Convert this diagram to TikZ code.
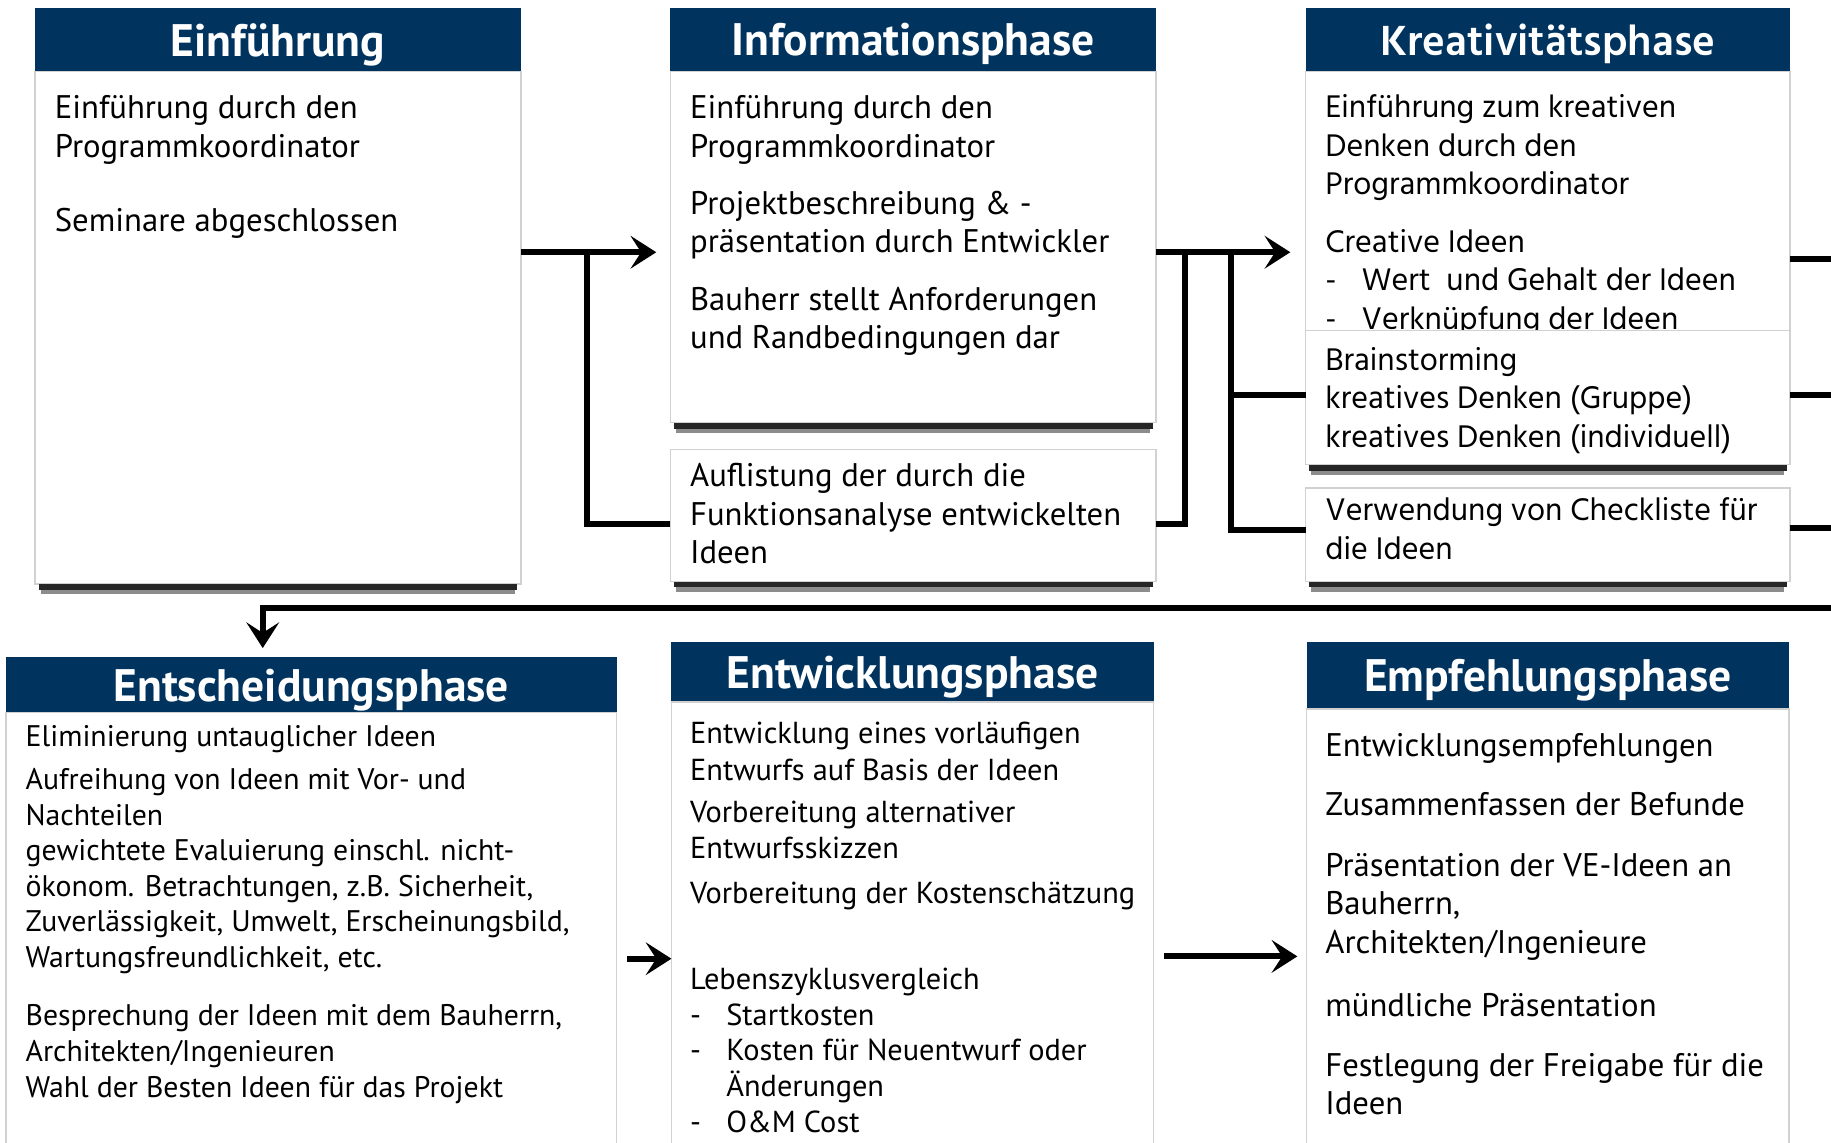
\documentclass[tikz,border=0pt]{standalone}
\usepackage{fontspec}
\setmainfont{PT Sans}
\newfontfamily\hindfont{Hind Madurai}
\usetikzlibrary{arrows.meta}

\definecolor{phaseblue}{HTML}{00335E}
\newcommand{\listdash}{\makebox[31pt][l]{-}}

\tikzset{
  phasebox/.style={draw=black!18, line width=1.2pt, fill=white, inner sep=0pt, outer sep=0pt, anchor=north west},
  phasehead/.style={fill=phaseblue, inner sep=0pt, outer sep=0pt, anchor=north west, text=white,
    text depth=0pt, font=\fontsize{39}{42}\selectfont\bfseries},
  phasetext/.style={anchor=north west, align=left, inner sep=0pt, outer sep=0pt,
    font=\fontsize{28}{33}\selectfont, execute at begin node={\rule{0pt}{0.92em}}},
  boxshadow/.style={fill=black!85},
}

\begin{document}
\begin{tikzpicture}[x=1pt,y=-1pt,line width=5pt,>={Stealth[length=22pt,width=28pt,inset=9pt]}]
  \useasboundingbox (0,0) rectangle (1568,978);

  % top row
  \node[phasehead,minimum width=416pt,minimum height=54pt] (einfH) at (30,7) {Einführung};
  \node[phasebox,minimum width=416pt,minimum height=439pt] (einf) at (30,61) {};
  \node[phasehead,minimum width=416pt,minimum height=54pt] (infoH) at (574,7) {Informationsphase};
  \node[phasebox,minimum width=416pt,minimum height=301pt] (info) at (574,61) {};
  \node[phasebox,minimum width=416pt,minimum height=113pt] (aufl) at (574,385) {};
  \node[phasehead,minimum width=415pt,minimum height=54pt,font=\hindfont\fontsize{37}{40}\selectfont\bfseries] (kreaH) at (1118,7) {Kreativitätsphase};
  \node[phasebox,minimum width=415pt,minimum height=222pt] (krea) at (1118,61) {};

  \node[phasetext] (einfT) at (47,81.7) {Einführung durch den\\Programmkoordinator\\[31pt]Seminare abgeschlossen};
  \node[phasetext] (infoT) at (591,81.7) {Einführung durch den\\Programmkoordinator\\[16pt]Projektbeschreibung \& -\\präsentation durch Entwickler\\[16pt]Bauherr stellt Anforderungen\\und Randbedingungen dar};
  \node[phasetext] (auflT) at (591,396.7) {Auflistung der durch die\\Funktionsanalyse entwickelten\\Ideen};
  \node[phasetext,font=\hindfont\fontsize{27.5}{33}\selectfont] (kreaT) at (1135,81.2) {Einführung zum kreativen\\Denken durch den\\Programmkoordinator\\[16pt]Creative Ideen\\\listdash Wert\ \ und Gehalt der Ideen\\\listdash Verknüpfung der Ideen};

  \node[phasebox,minimum width=415pt,minimum height=115pt] (brain) at (1118,283) {};
  \node[phasebox,minimum width=415pt,minimum height=80pt] (check) at (1118,418) {};
  \node[phasetext,font=\hindfont\fontsize{27.5}{33}\selectfont] (brainT) at (1135,297.2) {Brainstorming\\kreatives Denken (Gruppe)\\kreatives Denken (individuell)};
  \node[phasetext,font=\hindfont\fontsize{27.5}{33}\selectfont] (checkT) at (1135,426.2) {Verwendung von Checkliste für\\die Ideen};

  \foreach \b in {einf,info,aufl,brain,check}{
    \fill[boxshadow] ([xshift=3pt]\b.south west) rectangle ([xshift=-3pt,yshift=-5pt]\b.south east);
    \fill[boxshadow,fill=black!45] ([xshift=5pt,yshift=-5pt]\b.south west) rectangle ([xshift=-5pt,yshift=-9pt]\b.south east);
  }

  % bottom row
  \node[phasehead,minimum width=523pt,minimum height=47pt] (entsH) at (5,563) {Entscheidungsphase};
  \node[phasebox,minimum width=523pt,minimum height=380pt] (ents) at (5,610) {};
  \node[phasehead,minimum width=413pt,minimum height=51pt] (entwH) at (575,550) {Entwicklungsphase};
  \node[phasebox,minimum width=413pt,minimum height=389pt] (entw) at (575,601) {};
  \node[phasehead,minimum width=413pt,minimum height=57pt] (empfH) at (1119,550) {Empfehlungsphase};
  \node[phasebox,minimum width=413pt,minimum height=383pt] (empf) at (1119,607) {};

  \node[phasetext,font=\fontsize{25.5}{30.5}\selectfont] (entsT) at (22,621) {Eliminierung untauglicher Ideen\\[6.5pt]Aufreihung von Ideen mit Vor- und\\Nachteilen\\gewichtete Evaluierung einschl. nicht-\\ökonom. Betrachtungen, z.B. Sicherheit,\\Zuverlässigkeit, Umwelt, Erscheinungsbild,\\Wartungsfreundlichkeit, etc.\\[19.5pt]Besprechung der Ideen mit dem Bauherrn,\\Architekten/Ingenieuren\\Wahl der Besten Ideen für das Projekt};
  \node[phasetext,font=\fontsize{26}{30.5}\selectfont] (entwT) at (591,618.6) {Entwicklung eines vorläufigen\\[0.5pt]Entwurfs auf Basis der Ideen\\[5.5pt]Vorbereitung alternativer\\[0.5pt]Entwurfsskizzen\\[8.5pt]Vorbereitung der Kostenschätzung\\[43pt]Lebenszyklusvergleich\\\listdash Startkosten\\\listdash Kosten für Neuentwurf oder\\\hspace*{31pt}Änderungen\\\listdash O\&M Cost};
  \node[phasetext] (empfT) at (1135,627.7) {Entwicklungsempfehlungen\\[18pt]Zusammenfassen der Befunde\\[19pt]Präsentation der VE-Ideen an\\Bauherrn,\\Architekten/Ingenieure\\[21pt]mündliche Präsentation\\[18pt]Festlegung der Freigabe für die\\Ideen};

  % connectors
  \coordinate (j1) at (503,216);
  \coordinate (j2) at (1015,216);
  \coordinate (j3) at (1054,216);
  \coordinate (edge) at (1575,521);
  \coordinate (d1) at (225,521);
  \draw[->,shorten >=12pt] (einf.east |- j1) -- (info.west |- j1);
  \draw (j1) |- (aufl.west |- 0,449);
  \draw[->,shorten >=13pt] (info.east |- j1) -- (krea.west |- j1);
  \draw (aufl.east |- 0,449) -| (j2);
  \draw (j3) |- (check.west |- 0,454);
  \draw (j3 |- 0,338) -- (brain.west |- 0,338);
  \draw (krea.east |- 0,222) -- (edge |- 0,222);
  \draw (brain.east |- 0,338) -- (edge |- 0,338);
  \draw (check.east |- 0,452) -- (edge |- 0,452);
  \draw[->,shorten >=8pt] (edge) -- (d1) -- (d1 |- entsH.north);
  \draw[->,shorten <=9pt] (ents.east |- 0,821) -- (entw.west |- 0,821);
  \draw[->,shorten <=9pt,shorten >=8pt] (entw.east |- 0,819) -- (empf.west |- 0,819);
\end{tikzpicture}
\end{document}
